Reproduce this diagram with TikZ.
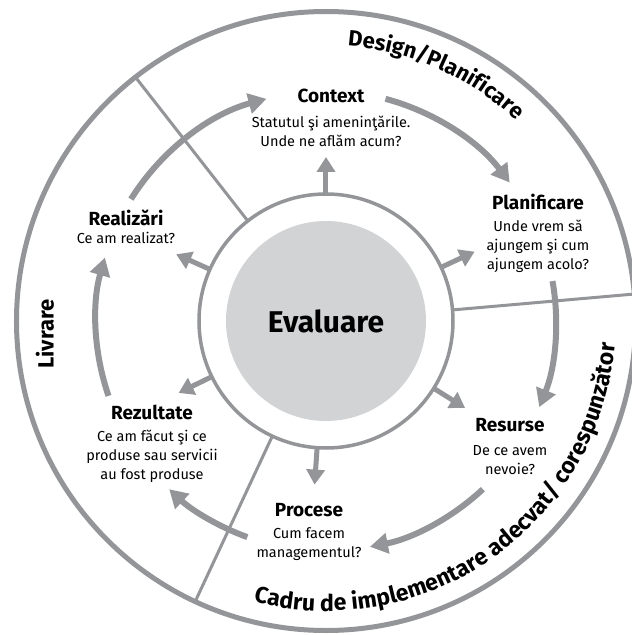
\documentclass[tikz,border=0pt]{standalone}
\usepackage{fontspec}
\setmainfont{Fira Sans}
\usepackage{tikz}
\usetikzlibrary{arrows.meta,decorations.text}
\definecolor{linegray}{RGB}{147,149,152}
\definecolor{discgray}{RGB}{209,211,212}

\begin{document}
\begin{tikzpicture}[x=1pt,y=1pt,
  title/.style={font=\bfseries\fontsize{19}{20}\selectfont, inner sep=0},
  desc/.style={font=\fontsize{14.5}{19}\selectfont, align=center, inner sep=0},
  sector/.style={font=\bfseries\fontsize{22}{22}\selectfont, inner sep=0},
  cycarrow/.style={draw=linegray, line width=6pt, -{Triangle[length=18pt,width=20pt]}},
  outarrow/.style={draw=linegray, line width=5pt, -{Triangle[length=15pt,width=18pt]}},
  divider/.style={draw=linegray, line width=3pt}]
 \useasboundingbox (-326,-314) rectangle (306,321);

 \draw (0,0) node[circle, draw=linegray, line width=5pt, minimum size=619pt, inner sep=0, outer sep=0] (rim) {};
 \draw (0,0) node[circle, draw=linegray, line width=3.5pt, fill=white, minimum size=254pt, inner sep=0, outer sep=0] (ring) {};
 \foreach \a in {128,5,245} \path[divider] (ring.\a) -- (rim.\a);
 \draw (0,0) node[circle, fill=discgray, minimum size=200pt, inner sep=0, font=\bfseries\fontsize{30}{30}\selectfont] (eval) {Evaluare};

 \foreach \a/\n in {90/context,25/planif,-32/resurse,-94/procese,-154/rezult,156/realiz} {
   \coordinate (tip\n) at (\a:164pt);
   \path[outarrow] (ring.\a) -- (tip\n);
 }
 \foreach \s/\e in {75/37,10/-22,-47/-79,-110/-133,-161/-196,148/105}
   \path[cycarrow] (\s:230pt) arc[start angle=\s, end angle=\e, radius=230pt];

 \draw (5,225) node[title] (context) {Context};
 \draw (5,190) node[desc] (contextq) {Statutul şi ameninţările.\\Unde ne aflăm acum?};
 \draw (212,119) node[title] (planif) {Planificare};
 \draw (212,75) node[desc] (planifq) {Unde vrem să\\ajungem şi cum\\ajungem acolo?};
 \draw (184,-104) node[title] (resurse) {Resurse};
 \draw (184,-139) node[desc] (resurseq) {De ce avem\\nevoie?};
 \draw (-17,-189) node[title] (procese) {Procese};
 \draw (-17,-223) node[desc] (procq) {Cum facem\\managementul?};
 \draw (-174,-91) node[title] (rezult) {Rezultate};
 \draw (-174,-135) node[desc] (rezultq) {Ce am făcut şi ce\\produse sau servicii\\au fost produse};
 \draw (-200,103) node[title] (realiz) {Realizări};
 \draw (-200,83) node[desc] (realizq) {Ce am realizat?};

 \draw (-281,-13) node[sector, rotate=90] (livrare) {Livrare};
 \path[decorate, decoration={text along path, text align=center,
   text={|\bfseries\fontsize{22}{22}\selectfont|Design/Planificare}}]
   (100:276pt) arc[start angle=100, end angle=32, radius=276pt];
 \path[decorate, decoration={text along path, text align=center,
   text={|\bfseries\fontsize{23}{23}\selectfont|Cadru de implementare adecvat/ corespunzător}}]
   (-125:290pt) arc[start angle=-125, end angle=16, radius=290pt];
\end{tikzpicture}
\end{document}
